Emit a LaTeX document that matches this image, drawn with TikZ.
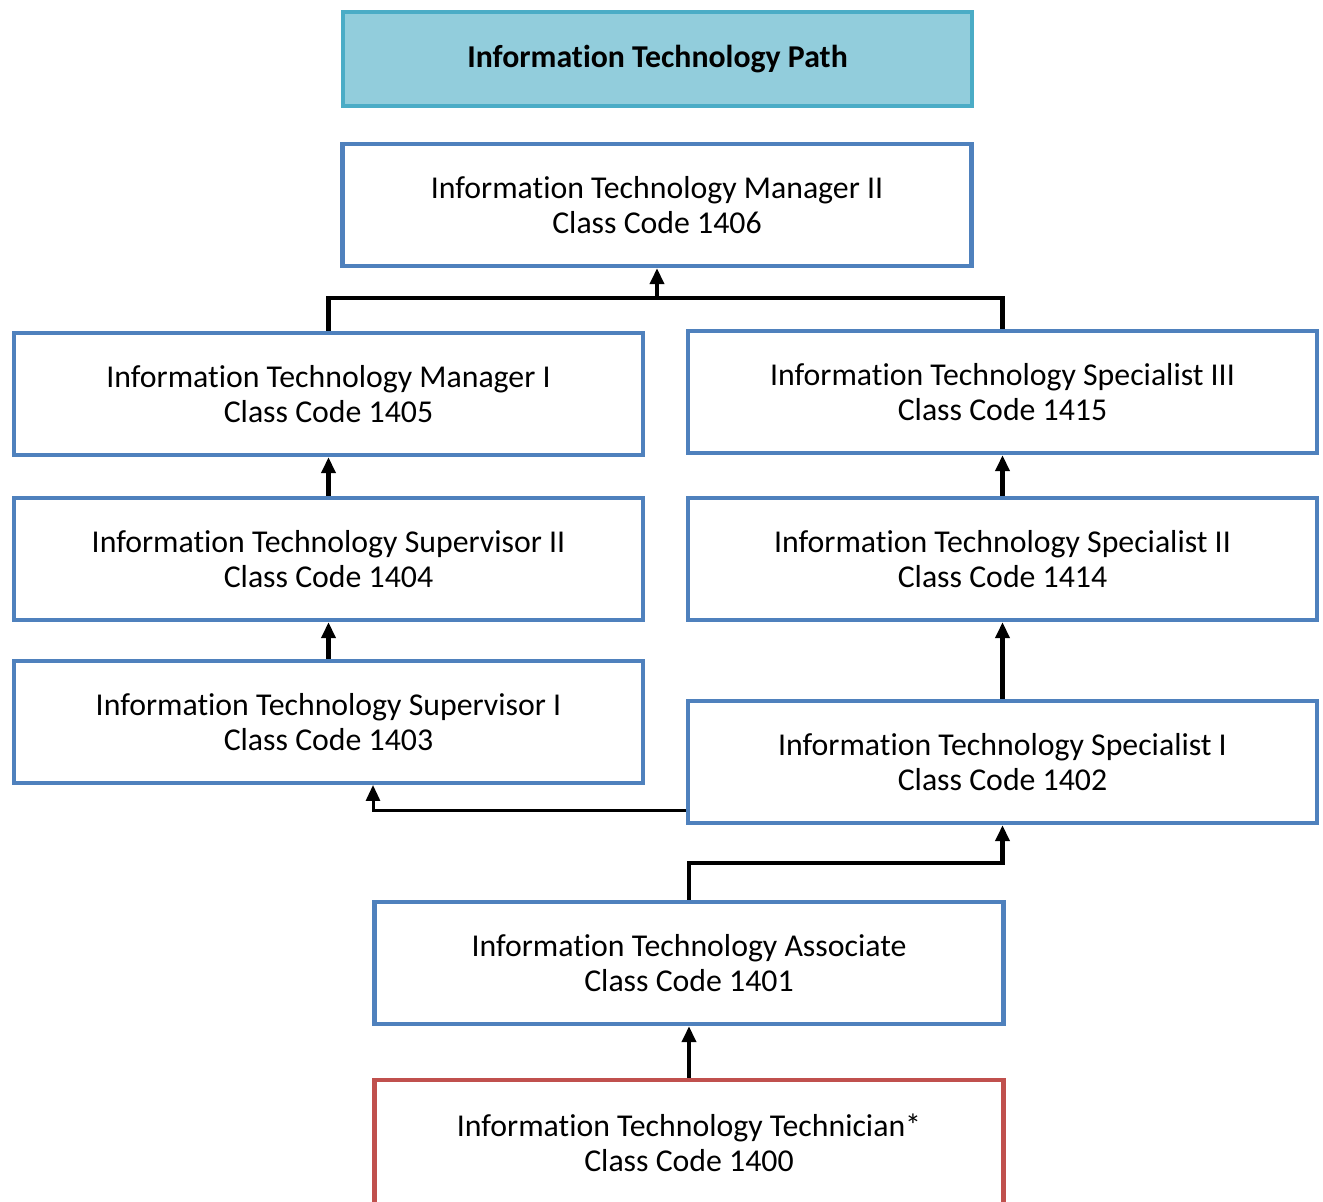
\documentclass[tikz,border=0pt]{standalone}
\usepackage{fontspec}
\setmainfont{Carlito}[Ligatures={NoCommon}]
\usetikzlibrary{arrows.meta}
\definecolor{boxblue}{HTML}{4F81BD}
\definecolor{titleborder}{HTML}{4BACC6}
\definecolor{titlefill}{HTML}{92CDDC}
\definecolor{boxred}{HTML}{C0504D}
\tikzset{
  jobbox/.style={draw=boxblue, line width=2.2pt, fill=white, minimum width=314.5pt, minimum height=61pt, align=center, inner sep=0pt, font=\fontsize{15.9}{17.6}\selectfont},
  titlebox/.style={jobbox, draw=titleborder, fill=titlefill, font=\fontsize{15.9}{17.6}\selectfont\bfseries, minimum height=47pt},
  redbox/.style={jobbox, draw=boxred, minimum height=63pt},
  conn/.style={line width=2.1pt, draw=black},
  arr/.style={conn, -{Triangle[width=7pt,length=8pt]}},
  thinarr/.style={line width=1.5pt, draw=black, -{Triangle[width=7pt,length=8pt]}},
}
\begin{document}
\begin{tikzpicture}[x=0.5pt,y=-0.5pt]
\useasboundingbox (0,0) rectangle (1323,1202);
\node[titlebox] (t) at (657.5,59) {Information Technology Path};
\node[jobbox] (m2) at (657,205) {Information Technology Manager II\\Class Code 1406};
\node[jobbox] (m1) at (328.5,394) {Information Technology Manager I\\Class Code 1405};
\node[jobbox] (s3) at (1002.5,392) {Information Technology Specialist III\\Class Code 1415};
\node[jobbox] (u2) at (328.5,559) {Information Technology Supervisor II\\Class Code 1404};
\node[jobbox] (s2) at (1002.5,559) {Information Technology Specialist II\\Class Code 1414};
\node[jobbox] (u1) at (328.5,722) {Information Technology Supervisor I\\Class Code 1403};
\node[jobbox] (s1) at (1002.5,762) {Information Technology Specialist I\\Class Code 1402};
\node[jobbox] (as) at (689,963) {Information Technology Associate\\Class Code 1401};
\node[redbox] (tc) at (689,1143) {Information Technology Technician*\\Class Code 1400};
% connectors
\coordinate (j) at (657,298);
\draw[conn] (m1.north) |- (j) -| (s3.north);
\draw[arr] (j) -- (m2.south);
\draw[arr] (u2.north) -- (m1.south);
\draw[arr] (u1.north) -- (u2.south);
\draw[arr] (s2.north) -- (s3.south);
\draw[arr] (s1.north) -- (s2.south);
\coordinate (k) at (373,785);
\draw[thinarr] (s1.west |- 0,811) -| (k);
\draw[arr] (as.north) -- ++(0,-37) -| (s1.south);
\draw[arr] (tc.north) -- (as.south);
\end{tikzpicture}
\end{document}
